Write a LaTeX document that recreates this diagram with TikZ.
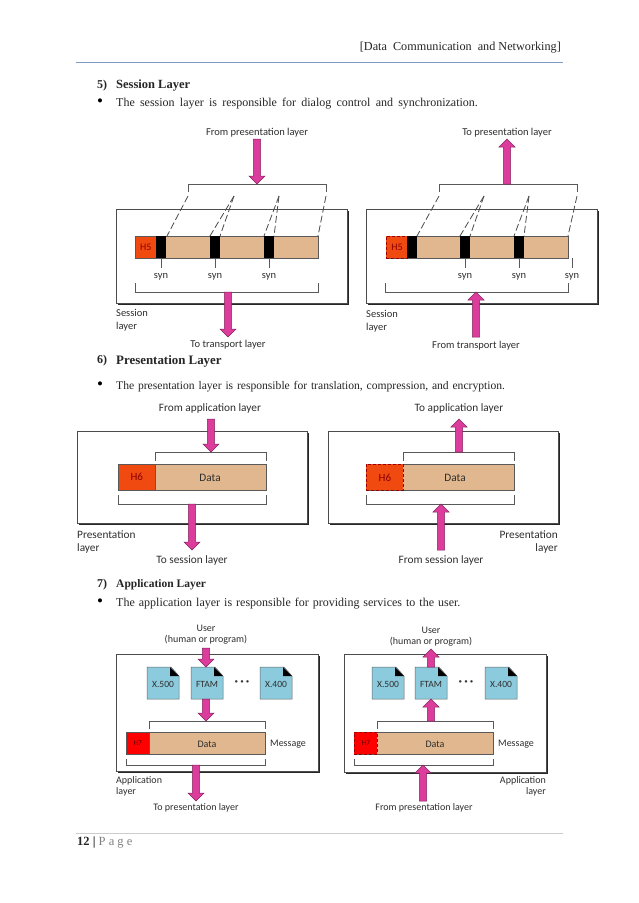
\documentclass[tikz,border=0pt]{standalone}
\usepackage{fontspec}
\setmainfont{Liberation Serif}
\setsansfont{Carlito}
\usetikzlibrary{calc}
\definecolor{pinkar}{HTML}{DC3C9C}
\definecolor{tan}{HTML}{E0B78E}
\definecolor{hdr}{HTML}{F04A10}
\definecolor{doc}{HTML}{8CCBDD}
\definecolor{rulec}{HTML}{7F9BC4}
\definecolor{txtc}{HTML}{2E2E2E}
\tikzset{
  pagetext/.style={font=\fontsize{11.6}{13}\selectfont,anchor=west,inner sep=0pt,text=black!85},
  bulletmark/.style={font=\fontsize{17}{17}\selectfont,inner sep=0pt,text=black},
  lab/.style={font=\sffamily\fontsize{10.5}{12.3}\selectfont,inner sep=0pt,text=txtc,align=center,yshift=-1.5pt},
  labb/.style={lab,font=\sffamily\fontsize{11.3}{13}\selectfont},
  labs/.style={lab,font=\sffamily\fontsize{10}{10.8}\selectfont},
  layerbox/.style={draw=black!70,fill=white,line width=.7pt},
  shadowl/.style={draw=black!85,line width=2pt},
  bar/.style={draw=black!65,fill=tan,line width=.6pt,inner sep=0pt},
  hbox/.style={draw=black!65,fill=hdr,line width=.6pt,inner sep=0pt,text=black!45!red,font=\sffamily\fontsize{10}{10}\selectfont},
  hboxd/.style={hbox,draw=black!40!red,line width=.9pt,densely dashed},
  hred/.style={fill=red,text=black!65!red,font=\sffamily\fontsize{7.5}{8}\selectfont},
  syncbox/.style={fill=black,inner sep=0pt},
  brk/.style={draw=black!65,line width=.8pt},
  dsh/.style={draw=black!70,line width=.8pt,dash pattern=on 7pt off 3pt},
  tick/.style={draw=black!65,line width=.6pt},
  parrow/.style={draw=black!40!pinkar,fill=pinkar,line width=.5pt},
  dots/.style={font=\sffamily\bfseries\fontsize{13}{13}\selectfont,inner sep=0pt,text=black!80}
}
\newcommand{\pinkarrow}[3]{%
  \path[parrow] let \n1={(#3-#2)>0?1:-1} in
    (#1-3.7,#2) -- (#1-3.7,#3-\n1*8) -- (#1-8,#3-\n1*8) -- (#1,#3) -- (#1+8,#3-\n1*8) -- (#1+3.7,#3-\n1*8) -- (#1+3.7,#2) -- cycle;}
\newcommand{\layerframe}[5]{% name x1 y1 x2 y2
  \draw[shadowl] (#2+2,#5+1) -- (#4+1,#5+1) -- (#4+1,#3+2);
  \path[layerbox] (#2,#3) coordinate (#1) rectangle (#4,#5);}
\newcommand{\docicon}[3]{%
  \coordinate (#1) at (#2,\docy);
  \path[draw=black!60,fill=doc,line width=.5pt] (#2-16,\docy) -- (#2+8,\docy) -- (#2+16,\docy+9) -- (#2+16,\docy+32) -- (#2-16,\docy+32) -- cycle;
  \path[fill=black] (#2+7,\docy) -- (#2+16,\docy+9) -- (#2+7,\docy+9) -- cycle;
  \node[lab,font=\sffamily\fontsize{9.5}{10}\selectfont] (#1t) at (#2,\docy+16) {#3};}
\begin{document}
\begin{tikzpicture}[x=1pt,y=-1pt]
\useasboundingbox (0,0) rectangle (638,903);
\fill[white] (0,0) rectangle (638,903);
% page furniture
\node[pagetext,anchor=east,font=\fontsize{12.2}{13}\selectfont] (head) at (561,48) {[Data\ \ Communication\ \ and Networking]};
\coordinate (hr1) at (76,62.5); \coordinate (hr2) at (563,62.5);
\draw[rulec,line width=1pt] (hr1) -- (hr2);
\node[pagetext,font=\bfseries\fontsize{12}{13}\selectfont] (n5) at (97,86) {5)};
\node[pagetext,font=\bfseries\fontsize{12.5}{13}\selectfont] (t5) at (116,86) {Session Layer};
\node[bulletmark] (u5) at (100,103) {\textbullet};
\node[pagetext,font=\fontsize{12}{13}\selectfont] (b5) at (116,104) {\spaceskip=5.2pt\relax The session layer is responsible for dialog control and synchronization.};
\node[pagetext,font=\bfseries\fontsize{12}{13}\selectfont] (n6) at (97,361) {6)};
\node[pagetext,font=\bfseries\fontsize{12.9}{13}\selectfont] (t6) at (116,361) {Presentation Layer};
\node[bulletmark] (u6) at (100,386) {\textbullet};
\node[pagetext] (b6) at (116,387) {\spaceskip=3.8pt\relax The presentation layer is responsible for translation, compression, and encryption.};
\node[pagetext,font=\bfseries\fontsize{12}{13}\selectfont] (n7) at (97,585) {7)};
\node[pagetext,font=\bfseries\fontsize{11.5}{13}\selectfont] (t7) at (116,585) {Application Layer};
\node[bulletmark] (u7) at (100,603) {\textbullet};
\node[pagetext,font=\fontsize{12}{13}\selectfont] (b7) at (116,604) {\spaceskip=4pt\relax The application layer is responsible for providing services to the user.};
\coordinate (fr1) at (76,833.5); \coordinate (fr2) at (563,833.5);
\draw[black!20,line width=.7pt] (fr1) -- (fr2);
\node[pagetext,font=\fontsize{12.5}{13}\selectfont] (foot) at (77,843) {\textbf{12 |} {\color{black!50}P a g e}};

% ---------- Session left
\layerframe{sl}{116}{209}{347}{303}
\node[bar,anchor=north west,minimum width=183pt,minimum height=22pt] (bar5l) at (135,236) {};
\node[hbox,anchor=north west,minimum width=21pt,minimum height=22pt] (h5l) at (135,236) {H5};
\foreach \n/\x in {a/156,b/210,c/264}{
  \node[syncbox,anchor=north west,minimum width=10pt,minimum height=22pt] (s\n) at (\x,236) {};
  \draw[tick] (\x+5,258) -- (\x+5,268);
  \node[lab] (sy\n) at (\x+5,275) {syn};
}
\draw[brk] (188,192) -- (188,184) -- (326,184) -- (326,192);
\draw[dsh] (188,196) -- (167,236);
\draw[dsh] (234,196) -- (210,236);
\draw[dsh] (234,196) -- (220,236);
\draw[dsh] (279,196) -- (264,236);
\draw[dsh] (279,196) -- (274,236);
\draw[dsh] (326,196) -- (318,236);
\draw[brk] (135,283) -- (135,292) -- (318,292) -- (318,283);
\pinkarrow{257}{139}{184}
\pinkarrow{228}{292}{337}
\node[lab] (fp) at (257,131) {From presentation layer};
\node[lab] (tt) at (228,343) {To transport layer};
\node[lab,align=left,anchor=north west] (sll) at (116,308) {Session\\layer};

% ---------- Session right
\layerframe{sr}{366}{209}{597}{303}
\node[bar,anchor=north west,minimum width=182pt,minimum height=22pt] (bar5r) at (386,236) {};
\node[hboxd,anchor=north west,minimum width=21pt,minimum height=22pt] (h5r) at (386,236) {H5};
\foreach \n/\x in {a/407,b/460,c/514}{
  \node[syncbox,anchor=north west,minimum width=10pt,minimum height=22pt] (r\n) at (\x,236) {};
}
\foreach \n/\x in {b/465,c/519,d/572}{
  \draw[tick] (\x,258) -- (\x,268);
  \node[lab] (ry\n) at (\x,275) {syn};
}
\draw[brk] (439,192) -- (439,184) -- (577,184) -- (577,192);
\draw[dsh] (439,196) -- (417,236);
\draw[dsh] (484,196) -- (460,236);
\draw[dsh] (484,196) -- (470,236);
\draw[dsh] (529,196) -- (514,236);
\draw[dsh] (529,196) -- (524,236);
\draw[dsh] (577,196) -- (568,236);
\draw[brk] (385,283) -- (385,292) -- (568,292) -- (568,283);
\pinkarrow{507}{184}{139}
\pinkarrow{476}{337}{292}
\node[lab] (tp) at (507,131) {To presentation layer};
\node[lab] (ft) at (476,344) {From transport layer};
\node[lab,align=left,anchor=north west] (srl) at (366,309) {Session\\layer};

% ---------- Presentation left
\layerframe{pl}{77}{431}{307}{523}
\node[bar,anchor=north west,minimum width=148pt,minimum height=26pt] (bar6l) at (118,464) {};
\node[hbox,anchor=north west,minimum width=37pt,minimum height=26pt,font=\sffamily\fontsize{11}{11}\selectfont] (h6l) at (118,464) {H6};
\node[labb] (d6l) at (210,476.5) {Data};
\draw[brk] (155,461) -- (155,452) -- (266,452) -- (266,461);
\draw[brk] (118,495) -- (118,504) -- (266,504) -- (266,495);
\pinkarrow{211}{419}{452}
\pinkarrow{192}{504}{550}
\node[labb] (fa) at (210,407) {From application layer};
\node[labb] (ts) at (192,559) {To session layer};
\node[labb,align=left,anchor=north west] (pll) at (77,529) {Presentation\\layer};

% ---------- Presentation right
\layerframe{pr}{328}{431}{558}{523}
\node[bar,anchor=north west,minimum width=148pt,minimum height=26pt] (bar6r) at (366,464) {};
\node[hboxd,anchor=north west,minimum width=37pt,minimum height=26pt,font=\sffamily\fontsize{11}{11}\selectfont] (h6r) at (366,464) {H6};
\node[labb] (d6r) at (455,476.5) {Data};
\draw[brk] (403,461) -- (403,452) -- (514,452) -- (514,461);
\draw[brk] (366,495) -- (366,504) -- (514,504) -- (514,495);
\pinkarrow{459}{452}{419}
\pinkarrow{441}{550}{504}
\node[labb] (ta) at (459,407) {To application layer};
\node[labb] (fs) at (441,559) {From session layer};
\node[labb,align=right,anchor=north east] (prl) at (558,529) {Presentation\\layer};

% ---------- Application left
\layerframe{al}{116}{654}{318}{771}
\def\docy{667}
\docicon{d1l}{163}{X.500}
\docicon{d2l}{207}{FTAM}
\docicon{d3l}{276}{X.400}
\node[dots] (dl) at (242,683) {·\,·\,·};
\node[bar,anchor=north west,minimum width=139pt,minimum height=22pt] (bar7l) at (126,732) {};
\node[hbox,hred,anchor=north west,minimum width=23pt,minimum height=22pt] (h7l) at (126,732) {H7};
\node[labs] (d7l) at (207,742.5) {Data};
\draw[brk] (149,729) -- (149,721) -- (265,721) -- (265,729);
\draw[brk] (126,759) -- (126,765) -- (265,765) -- (265,759);
\pinkarrow{206}{648}{667}
\pinkarrow{206}{699}{721}
\pinkarrow{196}{765}{801}
\node[labs] (ul) at (206,633) {User\\(human or program)};
\node[labs] (tpl) at (196,806) {To presentation layer};
\node[labs,anchor=west] (ml) at (270,742.5) {Message};
\node[labs,align=left,anchor=north west] (all) at (116,775) {Application\\layer};

% ---------- Application right
\layerframe{ar}{344}{654}{546}{772}
\def\docy{667}
\docicon{d1r}{388}{X.500}
\docicon{d2r}{431}{FTAM}
\docicon{d3r}{501}{X.400}
\node[dots] (dr) at (466,683) {·\,·\,·};
\node[bar,anchor=north west,minimum width=139pt,minimum height=22pt] (bar7r) at (354,732) {};
\node[hboxd,hred,anchor=north west,minimum width=23pt,minimum height=22pt] (h7r) at (354,732) {H7};
\node[labs] (d7r) at (435,742.5) {Data};
\draw[brk] (377,729) -- (377,721) -- (493,721) -- (493,729);
\draw[brk] (354,759) -- (354,765) -- (493,765) -- (493,759);
\pinkarrow{431}{667}{649}
\pinkarrow{431}{721}{699}
\pinkarrow{423}{801}{765}
\node[labs] (ur) at (431,635) {User\\(human or program)};
\node[labs] (fpr) at (424,806) {From presentation layer};
\node[labs,anchor=west] (mr) at (498,742.5) {Message};
\node[labs,align=right,anchor=north east] (arl) at (546,775) {Application\\layer};
\end{tikzpicture}
\end{document}
